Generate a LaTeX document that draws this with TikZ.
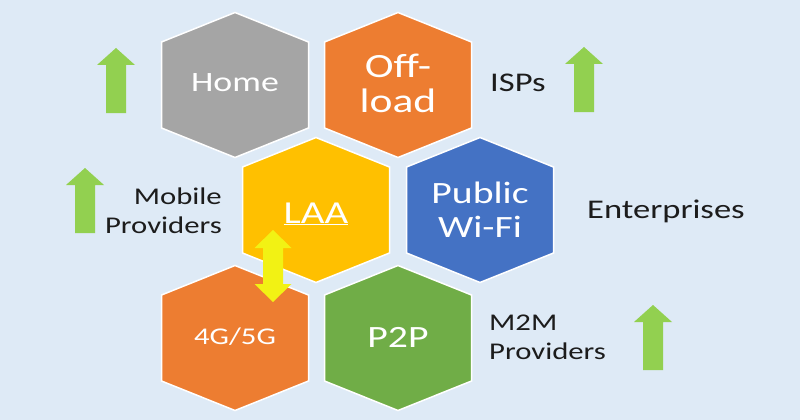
\documentclass[tikz,border=0pt]{standalone}
\usepackage{fontspec}
\setmainfont{Carlito}[FakeStretch=1.28]
\definecolor{bg}{HTML}{DEEAF6}
\definecolor{hgray}{HTML}{A5A5A5}
\definecolor{horange}{HTML}{ED7D31}
\definecolor{hgold}{HTML}{FFC000}
\definecolor{hblue}{HTML}{4472C4}
\definecolor{hgreen}{HTML}{70AD47}
\definecolor{agreen}{HTML}{92D050}
\definecolor{ayellow}{RGB}{242,242,20}
\definecolor{ink}{HTML}{1C1C1C}
\tikzset{
  hexa/.pic={\path[pic actions] (-73.5,-43) -- (0,-72.5) -- (73.5,-43) -- (73.5,43) -- (0,72.5) -- (-73.5,43) -- cycle;},
  uparr/.pic={\fill[agreen] (-10,65) -- (-10,17) -- (-19,17) -- (0,0) -- (19,17) -- (10,17) -- (10,65) -- cycle;},
  dblarr/.pic={\fill[ayellow] (0,-36) -- (18.5,-18) -- (10,-18) -- (10,18) -- (18.5,18) -- (0,36) -- (-18.5,18) -- (-10,18) -- (-10,-18) -- (-18.5,-18) -- cycle;},
  hexstyle/.style={draw=white, line width=1.5pt},
  hextext/.style={text=white, align=center, inner sep=0pt},
  lbl/.style={text=ink, inner sep=0pt, font=\fontsize{24}{29}\selectfont},
}
\begin{document}
\begin{tikzpicture}[x=1pt,y=-1pt]
\useasboundingbox (0,0) rectangle (800,420);
\fill[bg] (0,0) rectangle (800,420);
% hexagons
\pic[fill=hgray, hexstyle] at (235,85) {hexa};
\pic[fill=horange, hexstyle] at (398,85) {hexa};
\pic[fill=hgold, hexstyle] at (316,210) {hexa};
\pic[fill=hblue, hexstyle] at (480,210) {hexa};
\pic[fill=horange, hexstyle] at (235,338) {hexa};
\pic[fill=hgreen, hexstyle] at (398,338) {hexa};
% hexagon texts
\node[hextext, font=\fontsize{28}{34}\selectfont] (home) at (235,83) {Home};
\node[hextext, font=\fontsize{34}{35}\selectfont] (offload) at (398,83) {Off-\\load};
\node[hextext, font=\fontsize{32}{34}\selectfont] (laa) at (316,214) {\underline{LAA}};
\node[hextext, font=\fontsize{31}{34}\selectfont] (wifi) at (480,210) {Public\\Wi-Fi};
\node[hextext, font=\fontsize{24}{28}\selectfont] (g45) at (235,337) {4G/5G};
\node[hextext, font=\fontsize{31}{34}\selectfont] (p2p) at (398,337) {P2P};
% yellow double arrow between LAA and 4G/5G
\pic at (273,266) {dblarr};
% labels
\node[lbl, anchor=west, font=\fontsize{27}{34}\selectfont] (isps) at (490,83) {ISPs};
\node[lbl, anchor=west, font=\fontsize{27}{34}\selectfont] (ent) at (587,211) {Enterprises};
\node[lbl, anchor=west, align=left] (m2m) at (489,337.5) {M2M\\Providers};
\node[lbl, anchor=east, align=right] (mob) at (222,211) {Mobile\\Providers};
% green arrows
\pic at (116,48) {uparr};
\pic at (85,168) {uparr};
\pic at (584,47) {uparr};
\pic at (653,305) {uparr};
\end{tikzpicture}
\end{document}
